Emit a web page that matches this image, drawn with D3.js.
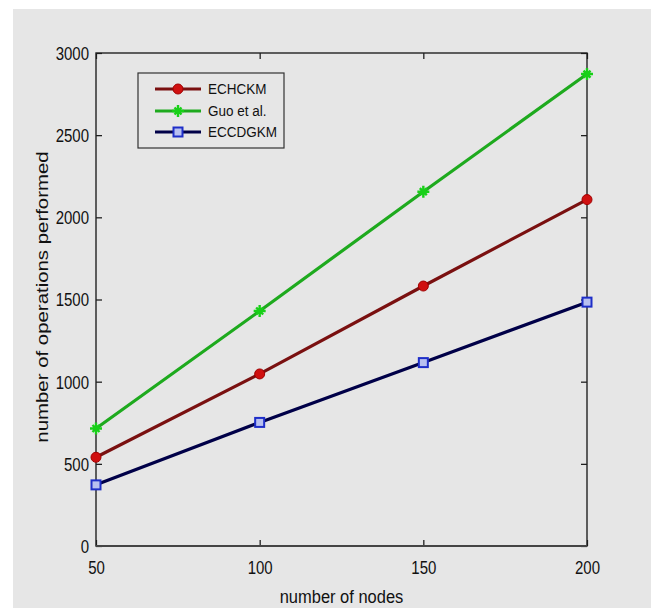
<!DOCTYPE html>
<html>
<head>
<meta charset="utf-8">
<script src="https://cdn.jsdelivr.net/npm/d3@7"></script>
<style>
  html, body { margin: 0; padding: 0; background: #ffffff; }
  svg { display: block; font-family: "Liberation Sans", Arial, sans-serif; }
</style>
</head>
<body>
<div id="chart"></div>
<script>
// values
var nodes = [50, 100, 150, 200];
var echckm = [540, 1047, 1582, 2108];
var guo = [715, 1430, 2156, 2872];
var eccdgkm = [372, 752, 1116, 1484];
var yTicks = [0, 500, 1000, 1500, 2000, 2500, 3000];

var seriesNames = ['ECHCKM', 'Guo et al.', 'ECCDGKM'];
var seriesValues = [echckm, guo, eccdgkm];

var width = 651, height = 608;
var plot = { left: 96, right: 587, top: 53, bottom: 546 };
var bg = '#e6e6e6';

// per series look (line colour, marker)
var styles = [
  { line: '#7a1010', marker: 'circle', fill: '#d01010', stroke: '#a00000' },
  { line: '#1eaa1e', marker: 'plus', fill: 'none', stroke: '#18d018' },
  { line: '#000048', marker: 'square', fill: '#b8c0f0', stroke: '#1e2ec8' }
];

var svg = d3.select('#chart').append('svg')
  .attr('width', width)
  .attr('height', height);

// grey figure background
svg.append('rect')
  .attr('x', 13).attr('y', 9)
  .attr('width', width - 13).attr('height', height - 9)
  .attr('fill', bg);

var x = d3.scaleLinear().domain([50, 200]).range([plot.left, plot.right]);
var y = d3.scaleLinear().domain([0, 3000]).range([plot.bottom, plot.top]);

var tickFont = 15;
var stretch = 1.2; // the picture is a bit taller than wide

// axes, ticks pointing inward on all four sides
var gx = svg.append('g')
  .attr('transform', 'translate(0,' + plot.bottom + ')')
  .call(d3.axisBottom(x).tickValues(nodes).tickSizeInner(-6).tickSizeOuter(0)
    .tickFormat(d3.format('d')));
gx.selectAll('text')
  .attr('y', 22 / stretch)
  .attr('dy', '0.36em')
  .attr('transform', 'scale(1,' + stretch + ')');

var gy = svg.append('g')
  .attr('transform', 'translate(' + plot.left + ',0)')
  .call(d3.axisLeft(y).tickValues(yTicks).tickSizeInner(-6).tickSizeOuter(0)
    .tickFormat(d3.format('d')));
gy.selectAll('text')
  .attr('x', -7)
  .attr('dy', '0.36em')
  .attr('transform', 'scale(1,' + stretch + ')');

svg.append('g')
  .attr('transform', 'translate(0,' + plot.top + ')')
  .call(d3.axisTop(x).tickValues(nodes).tickSizeInner(-6).tickSizeOuter(0).tickFormat(''));
svg.append('g')
  .attr('transform', 'translate(' + plot.right + ',0)')
  .call(d3.axisRight(y).tickValues(yTicks).tickSizeInner(-6).tickSizeOuter(0).tickFormat(''));

svg.selectAll('.domain').remove();
svg.selectAll('.tick line').attr('stroke', '#111').attr('stroke-width', 1.2);
svg.selectAll('.tick text')
  .attr('font-size', tickFont)
  .attr('font-family', '"Liberation Sans", Arial, sans-serif')
  .attr('fill', '#111');

// frame
svg.append('rect')
  .attr('x', plot.left).attr('y', plot.top)
  .attr('width', plot.right - plot.left)
  .attr('height', plot.bottom - plot.top)
  .attr('fill', 'none')
  .attr('stroke', '#222')
  .attr('stroke-width', 1.4);
svg.append('line')
  .attr('x1', plot.left).attr('x2', plot.right)
  .attr('y1', plot.bottom).attr('y2', plot.bottom)
  .attr('stroke', '#444').attr('stroke-width', 2.2);

// axis titles
svg.append('text')
  .attr('transform', 'translate(' + (plot.left + plot.right) / 2 + ',596) scale(1,1.12)')
  .attr('text-anchor', 'middle')
  .attr('dy', '0.36em')
  .attr('font-size', 16.5)
  .attr('fill', '#111')
  .text('number of nodes');

svg.append('text')
  .attr('transform', 'translate(42,297) rotate(-90) scale(1.2,1)')
  .attr('text-anchor', 'middle')
  .attr('dy', '0.36em')
  .attr('font-size', 17)
  .attr('fill', '#111')
  .text('number of operations performed');

function drawMarker(g, st, cx, cy) {
  if (st.marker === 'circle') {
    g.append('circle')
      .attr('cx', cx).attr('cy', cy).attr('r', 5)
      .attr('fill', st.fill).attr('stroke', st.stroke).attr('stroke-width', 1);
  } else if (st.marker === 'square') {
    g.append('rect')
      .attr('x', cx - 4.5).attr('y', cy - 4.5)
      .attr('width', 9).attr('height', 9)
      .attr('fill', st.fill).attr('stroke', st.stroke).attr('stroke-width', 2);
  } else {
    g.append('path')
      .attr('d', 'M' + (cx - 6) + ',' + cy + 'H' + (cx + 6) +
                 'M' + cx + ',' + (cy - 6) + 'V' + (cy + 6) +
                 'M' + (cx - 3.5) + ',' + (cy - 3.5) + 'L' + (cx + 3.5) + ',' + (cy + 3.5) +
                 'M' + (cx - 3.5) + ',' + (cy + 3.5) + 'L' + (cx + 3.5) + ',' + (cy - 3.5))
      .attr('stroke', st.stroke).attr('stroke-width', 2.4).attr('fill', 'none');
  }
}

// series lines + markers
var line = d3.line()
  .x(function(d, i) { return x(nodes[i]); })
  .y(function(d) { return y(d); });

var lines = svg.append('g').classed('lines', true);
seriesValues.forEach(function(vals, k) {
  var st = styles[k];
  lines.append('path')
    .attr('d', line(vals))
    .attr('fill', 'none')
    .attr('stroke', st.line)
    .attr('stroke-width', 3.2);
  vals.forEach(function(v, i) {
    drawMarker(lines, st, x(nodes[i]), y(v));
  });
});

// legend
var legend = svg.append('g').classed('legend', true);
legend.append('rect')
  .attr('x', 138).attr('y', 73)
  .attr('width', 146).attr('height', 75)
  .attr('fill', bg)
  .attr('stroke', '#333')
  .attr('stroke-width', 1.2);

var rowY = [89, 111, 132];
seriesNames.forEach(function(name, k) {
  var st = styles[k];
  legend.append('line')
    .attr('x1', 155).attr('x2', 201)
    .attr('y1', rowY[k]).attr('y2', rowY[k])
    .attr('stroke', st.line).attr('stroke-width', 3.2);
  drawMarker(legend, st, 178, rowY[k]);
  legend.append('text')
    .attr('transform', 'translate(208,' + rowY[k] + ') scale(1,1.1)')
    .attr('dy', '0.36em')
    .attr('font-size', 13.5)
    .attr('fill', '#111')
    .text(name);
});
</script>
</body>
</html>
